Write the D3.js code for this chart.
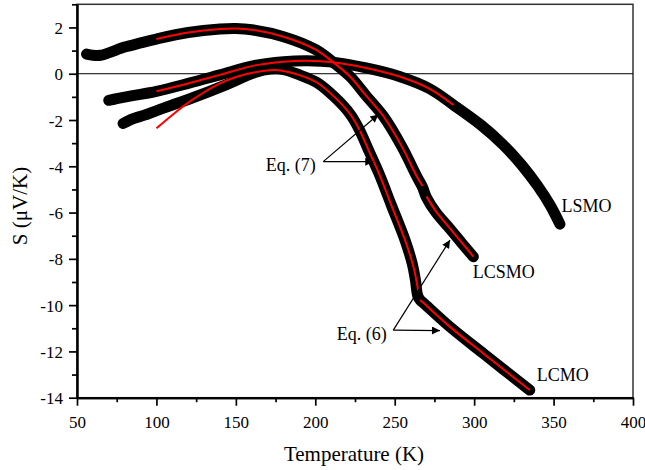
<!DOCTYPE html>
<html>
<head>
<meta charset="utf-8">
<title>S vs Temperature</title>
<style>
body{ margin:0; background:#fff; }
#chart{ display:block; }
.tick text{ font-family:"Liberation Serif", "Times New Roman", serif; font-size:17px; fill:#000; }
.lbl{ font-family:"Liberation Serif", "Times New Roman", serif; font-size:18px; fill:#000; }
.title{ font-family:"Liberation Serif", "Times New Roman", serif; font-size:21px; fill:#000; }
</style>
</head>
<body>
<svg id="chart"></svg>
<script src="https://d3js.org/d3.v7.min.js"></script>
<script>
// tick values
var xMajor = [50, 100, 150, 200, 250, 300, 350, 400];
var xMinor = [75, 125, 175, 225, 275, 325, 375];
var yMajor = [-14, -12, -10, -8, -6, -4, -2, 0, 2];
var yMinor = [-13, -11, -9, -7, -5, -3, -1, 1, 3];

// measured data [T (K), S (uV/K)]
var lsmoData = [[70,-1.15],[75,-1.08],[85,-0.95],[100,-0.76],[120,-0.42],[140,-0.05],[162,0.36],[180,0.52],
    [195,0.56],[211,0.5],[232,0.25],[253,-0.12],[272,-0.65],[287,-1.35],[304,-2.2],[318,-3.05],[330,-3.95],[340,-4.85],[348,-5.7],[354,-6.5]];
var lcsmoData = [[56,0.85],[60,0.8],[65,0.8],[70,0.9],[80,1.15],[90,1.33],[100,1.5],[120,1.78],[140,1.93],[150,1.95],
    [160,1.9],[180,1.6],[200,1.05],[213,0.4],[222,-0.13],[232,-0.95],[243,-1.85],[254.5,-3.15],[264,-4.45],[267.5,-4.9],
    [270,-5.35],[276,-6.0],[285,-6.72],[292,-7.3],[299.5,-7.91]];
var lcmoData = [[79,-2.15],[85,-1.95],[92,-1.8],[101,-1.57],[110,-1.35],[122,-1.06],[143,-0.5],[162,0.05],[172,0.2],
    [180,0.18],[190,-0.05],[201,-0.38],[212,-1.0],[222,-1.75],[228,-2.45],[233.5,-3.3],[240,-4.3],[248,-5.7],[256.5,-7.19],
    [261,-8.2],[263,-8.9],[264.5,-9.6],[266,-9.78],[268,-9.9],[285,-10.95],[306,-12.1],[335,-13.67]];

// fitted curves
var lsmoFit = [[100,-0.76],[120,-0.42],[140,-0.05],[162,0.36],[180,0.52],[195,0.56],[211,0.5],[232,0.25],[253,-0.12],[272,-0.65],[287,-1.35]];
var lcsmoFit7 = [[100,1.5],[120,1.78],[140,1.93],[150,1.95],[160,1.9],[180,1.6],[200,1.05],[213,0.4],[222,-0.13],[232,-0.95],
    [243,-1.85],[254.5,-3.15],[264,-4.45],[267.5,-4.85]];
var lcsmoFit6 = [[270,-5.3],[276,-5.95],[285,-6.7],[292,-7.28],[299.5,-7.9]];
var lcmoFit7 = [[100,-2.36],[110,-1.78],[120,-1.25],[130,-0.8],[140,-0.42],[150,-0.14],[162,0.06],[175,0.16],[190,-0.06],
    [201,-0.38],[212,-1.0],[222,-1.75],[228,-2.45],[233.5,-3.3],[240,-4.3],[248,-5.7],[256.5,-7.19],[262,-8.4],[264.8,-9.4]];
var lcmoFit6 = [[266,-9.78],[268,-9.9],[285,-10.95],[306,-12.1],[335,-13.67]];

var W = 645, H = 470;
var svg = d3.select("#chart").attr("width", W).attr("height", H);

var x = d3.scaleLinear().domain([50, 400]).range([77, 633]);
var y = d3.scaleLinear().domain([-14, 3]).range([397.7, 4.3]);

var line = d3.line()
    .x(function(d){ return x(d[0]); })
    .y(function(d){ return y(d[1]); })
    .curve(d3.curveCatmullRom.alpha(0.5));

// frame (top/right)
svg.append("rect")
    .attr("x", x(50)).attr("y", y(3))
    .attr("width", x(400) - x(50)).attr("height", y(-14) - y(3))
    .attr("fill", "#fff").attr("stroke", "#333").attr("stroke-width", 1.5);

// zero line
svg.append("line")
    .attr("x1", x(50)).attr("x2", x(400))
    .attr("y1", y(0)).attr("y2", y(0))
    .attr("stroke", "#000").attr("stroke-width", 1);

// data bands
[lsmoData, lcsmoData, lcmoData].forEach(function(ds){
    svg.append("path").datum(ds)
        .attr("d", line)
        .attr("fill", "none").attr("stroke", "#000")
        .attr("stroke-width", 11)
        .attr("stroke-linecap", "round").attr("stroke-linejoin", "round");
});

// fits
[lsmoFit, lcsmoFit7, lcsmoFit6, lcmoFit7, lcmoFit6].forEach(function(ds){
    svg.append("path").datum(ds)
        .attr("d", line)
        .attr("fill", "none").attr("stroke", "#ff0000")
        .attr("stroke-width", 2);
});

// axes
var fmt = function(d){ return String(d); };
svg.append("g")
    .attr("transform", "translate(0," + y(-14) + ")")
    .call(d3.axisBottom(x).tickValues(xMajor).tickSize(8).tickSizeOuter(0).tickPadding(10).tickFormat(fmt));
svg.append("g")
    .attr("transform", "translate(0," + y(-14) + ")")
    .call(d3.axisBottom(x).tickValues(xMinor).tickSize(4.5).tickSizeOuter(0).tickFormat(""));
var yAxis = svg.append("g")
    .attr("transform", "translate(" + x(50) + ",0)")
    .call(d3.axisLeft(y).tickValues(yMajor).tickSize(8).tickSizeOuter(0).tickPadding(6).tickFormat(fmt));
svg.append("g")
    .attr("transform", "translate(" + x(50) + ",0)")
    .call(d3.axisLeft(y).tickValues(yMinor).tickSize(5).tickSizeOuter(0).tickFormat(""));

svg.selectAll(".domain").attr("stroke", "#000").attr("stroke-width", 2);
svg.selectAll(".tick line").attr("stroke", "#000").attr("stroke-width", 1.7);
yAxis.selectAll(".tick text").attr("dy", "0.36em");
svg.selectAll("g").attr("font-family", null).attr("font-size", null);

// axis titles
svg.append("text").attr("class", "title")
    .attr("text-anchor", "middle")
    .attr("x", 354).attr("y", 460.5)
    .text("Temperature (K)");
svg.append("text").attr("class", "title")
    .attr("text-anchor", "middle")
    .attr("transform", "translate(26.5,206) rotate(-90)")
    .text("S (\u03bcV/K)");

// curve labels
var labels = [
    {t: "LSMO", T: 355, S: -5.96},
    {t: "LCSMO", T: 299.1, S: -8.84},
    {t: "LCMO", T: 339.4, S: -13.27},
    {t: "Eq. (7)", T: 168.8, S: -4.19},
    {t: "Eq. (6)", T: 213.5, S: -11.51}
];
svg.selectAll("text.lbl").data(labels).enter().append("text")
    .attr("class", "lbl")
    .attr("x", function(d){ return x(d.T); })
    .attr("y", function(d){ return y(d.S); })
    .text(function(d){ return d.t; });

// arrows
svg.append("defs").append("marker")
    .attr("id", "ah").attr("viewBox", "0 0 10 10")
    .attr("refX", 10).attr("refY", 5)
    .attr("markerWidth", 10).attr("markerHeight", 8)
    .attr("markerUnits", "userSpaceOnUse")
    .attr("orient", "auto")
    .append("path").attr("d", "M0,0L10,5L0,10Z").attr("fill", "#000");

var arrows = [
    {from: [205.0, -3.80], to: [239.7, -1.76]},
    {from: [205.0, -3.80], to: [236.5, -3.80]},
    {from: [249.1, -11.08], to: [284.8, -7.19]},
    {from: [249.1, -11.08], to: [278.5, -11.1]}
];
svg.selectAll("line.arrow").data(arrows).enter().append("line")
    .attr("class", "arrow")
    .attr("x1", function(d){ return x(d.from[0]); })
    .attr("y1", function(d){ return y(d.from[1]); })
    .attr("x2", function(d){ return x(d.to[0]); })
    .attr("y2", function(d){ return y(d.to[1]); })
    .attr("stroke", "#000").attr("stroke-width", 1.2)
    .attr("marker-end", "url(#ah)");
</script>
</body>
</html>
